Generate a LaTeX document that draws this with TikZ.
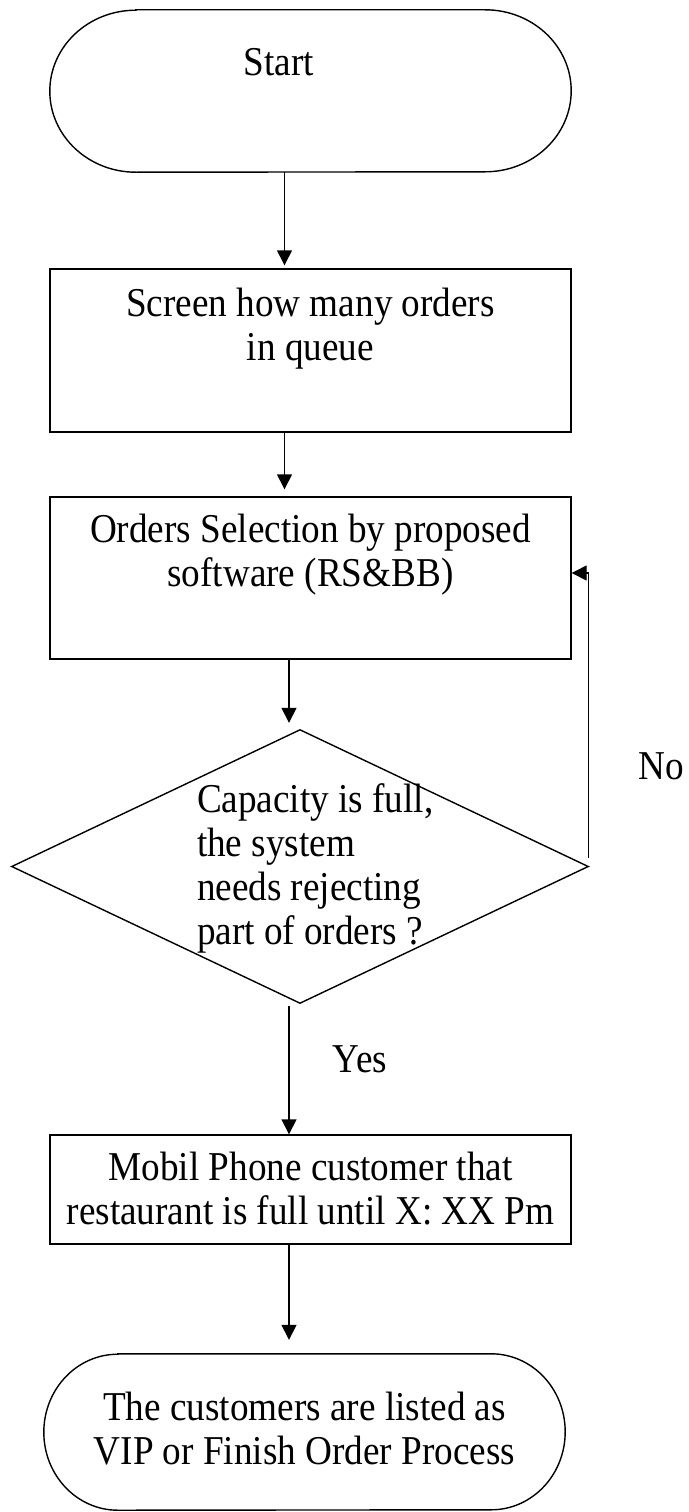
\documentclass[tikz,border=0pt]{standalone}
\usepackage{fontspec}
\setmainfont{Liberation Serif}[FakeStretch=0.907]
\usetikzlibrary{arrows.meta,calc}
\newcommand\fctext[4]{\parbox[c][#1][t]{#2}{\centering\rule{0pt}{#3}#4}}
\begin{document}
\begin{tikzpicture}[x=1pt,y=-1pt,
  font=\fontsize{41}{44}\selectfont,
  proc/.style={draw, line width=1.4pt, rectangle, inner sep=0pt},
  term/.style={rectangle, inner sep=0pt},
  outline/.style={draw, line width=1.4pt},
  flow/.style={draw, line width=1.4pt, -{Triangle[length=15pt,width=15pt]}},
  lbl/.style={inner sep=0pt}]
\useasboundingbox (0,0) rectangle (688,1512);

% Start terminal
\node[term] (start) at (310.5,91) {\fctext{162pt}{521pt}{66pt}{\hspace*{-63pt}Start}};
\draw[outline] ([xshift=86pt]start.north west) -- ([xshift=-86pt]start.north east)
  arc[start angle=90,end angle=-90,x radius=86pt,y radius=81pt]
  -- ([xshift=86pt]start.south west)
  arc[start angle=270,end angle=90,x radius=86pt,y radius=81pt] -- cycle;

% Process boxes
\node[proc] (screen) at (310.5,350.5) {\fctext{163pt}{521pt}{47pt}{Screen how many orders\\in queue}};
\node[proc] (orders) at (310.5,578) {\fctext{162pt}{521pt}{45pt}{Orders Selection by proposed\\software (RS\&BB)}};

% Decision
\node[term] (dec) at (300,866.5) {\parbox[c][273pt][t]{576pt}{\raggedright\leftskip=185pt\rule{0pt}{82pt}Capacity is full,\\the system\\needs rejecting\\part of orders ?}};
\draw[outline] (dec.north) -- (dec.east) -- (dec.south) -- (dec.west) -- cycle;

\node[proc] (mobil) at (310.5,1189.5) {\fctext{109pt}{521pt}{45pt}{Mobil Phone customer that\\restaurant is full until X: XX Pm}};

% End terminal
\node[term] (finish) at (304.5,1432) {\fctext{156pt}{521pt}{66pt}{The customers are listed as\\VIP or Finish Order Process}};
\draw[outline] ([xshift=74pt]finish.north west) -- ([xshift=-74pt]finish.north east)
  arc[start angle=90,end angle=-90,x radius=74pt,y radius=78pt]
  -- ([xshift=74pt]finish.south west)
  arc[start angle=270,end angle=90,x radius=74pt,y radius=78pt] -- cycle;

% Connectors
\draw[flow, shorten >=3pt] ([xshift=-26pt]start.south) -- ([xshift=-26pt]screen.north);
\draw[flow, shorten >=7pt] ([xshift=-26pt]screen.south) -- ([xshift=-26pt]orders.north);
\draw[flow, shorten >=7pt] ([xshift=-21.5pt]orders.south) -- ([xshift=-11pt]dec.north);
\draw[flow] ([xshift=-11pt,yshift=-3pt]dec.south) -- ([xshift=-21.5pt]mobil.north);
\draw[flow, shorten >=14pt] ([xshift=-21.5pt]mobil.south) -- ([xshift=-15.5pt]finish.north);
\draw[flow] ([yshift=9pt]dec.east) |- ([yshift=5pt]orders.east);

% Labels
\node[lbl, anchor=base] (nolabel) at (661,779) {No};
\node[lbl, anchor=base] (yeslabel) at (360,1072) {Yes};
\end{tikzpicture}
\end{document}
